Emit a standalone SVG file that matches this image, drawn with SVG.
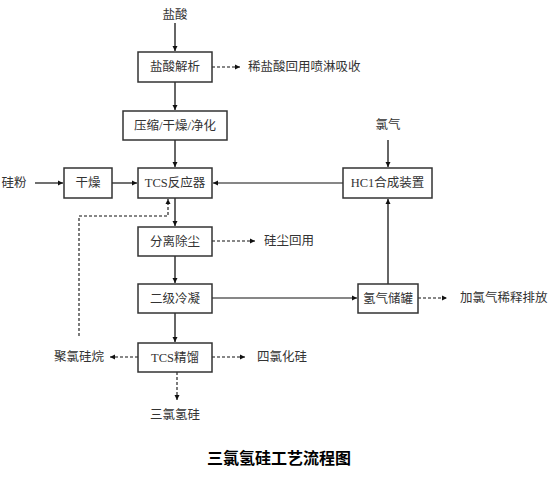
<svg xmlns="http://www.w3.org/2000/svg" width="550" height="477" viewBox="0 0 550 477">
<style>
.box{fill:#fff;stroke:#333;stroke-width:1.5}
.t{font-family:"Liberation Serif","Noto Sans CJK SC",serif;font-size:12.5px;fill:#333;text-anchor:middle;dominant-baseline:central}
.l{text-anchor:start}
.v{stroke:#666;stroke-width:2;fill:none}
.h{stroke:#111;stroke-width:1.2;fill:none}
.d{stroke:#111;stroke-width:1.1;fill:none;stroke-dasharray:3,2}
.title{font-family:"Liberation Serif","Noto Sans CJK SC",serif;font-size:16px;font-weight:bold;fill:#000;text-anchor:middle;dominant-baseline:central}
</style>
<defs>
<marker id="a" markerWidth="6" markerHeight="6" refX="5" refY="3" orient="auto" markerUnits="userSpaceOnUse">
<path d="M0,0.5 L5,3 L0,5.5 z" fill="#111"/>
</marker>
</defs>
<rect width="550" height="477" fill="#fff"/>
<g id="connectors">
<path class="v" d="M175,23 V51" marker-end="url(#a)"/>
<path class="v" d="M175,82 V110" marker-end="url(#a)"/>
<path class="v" d="M175,140 V167" marker-end="url(#a)"/>
<path class="v" d="M175,198 V226" marker-end="url(#a)"/>
<path class="v" d="M175,256 V283" marker-end="url(#a)"/>
<path class="v" d="M175,313 V342" marker-end="url(#a)"/>
<path class="v" d="M388,140 V167" marker-end="url(#a)"/>
<path class="v" d="M388,284 V199" marker-end="url(#a)"/>
<path class="h" d="M35,183 H63" marker-end="url(#a)"/>
<path class="h" d="M112,183 H137" marker-end="url(#a)"/>
<path class="h" d="M343,183 H213" marker-end="url(#a)"/>
<path class="h" d="M212,298 H357" marker-end="url(#a)"/>
<path class="d" d="M212,67 H240" marker-end="url(#a)"/>
<path class="d" d="M212,241 H255" marker-end="url(#a)"/>
<path class="d" d="M418,298 H447" marker-end="url(#a)"/>
<path class="d" d="M138,357 H110" marker-end="url(#a)"/>
<path class="d" d="M212,357 H245" marker-end="url(#a)"/>
<path class="d" d="M177,372 V400" marker-end="url(#a)"/>
<path class="d" d="M79,336 V216 H168 V199" marker-end="url(#a)"/>
</g>
<g id="n-hcl-in"><text class="t" x="175" y="15">盐酸</text></g>
<g id="n-jiexi"><rect class="box" x="138" y="52" width="74" height="30"/><text class="t" x="175" y="67">盐酸解析</text></g>
<g id="n-xisuan"><text class="t l" x="248" y="67">稀盐酸回用喷淋吸收</text></g>
<g id="n-yasuo"><rect class="box" x="123" y="111" width="104" height="29"/><text class="t" x="175" y="125.5">压缩/干燥/净化</text></g>
<g id="n-lvqi"><text class="t" x="388" y="125">氯气</text></g>
<g id="n-guifen"><text class="t" x="14" y="183">硅粉</text></g>
<g id="n-ganzao"><rect class="box" x="64" y="168" width="48" height="30"/><text class="t" x="88" y="183">干燥</text></g>
<g id="n-tcs"><rect class="box" x="138" y="168" width="74" height="30"/><text class="t" x="175" y="183">TCS反应器</text></g>
<g id="n-hclsyn"><rect class="box" x="343" y="168" width="89" height="30"/><text class="t" x="387.5" y="183">HC1合成装置</text></g>
<g id="n-fenli"><rect class="box" x="138" y="227" width="74" height="29"/><text class="t" x="175" y="241.5">分离除尘</text></g>
<g id="n-guichen"><text class="t l" x="264" y="241">硅尘回用</text></g>
<g id="n-lengning"><rect class="box" x="138" y="284" width="74" height="29"/><text class="t" x="175" y="298.5">二级冷凝</text></g>
<g id="n-qingqi"><rect class="box" x="358" y="284" width="60" height="29"/><text class="t" x="388" y="298.5">氢气储罐</text></g>
<g id="n-paifang"><text class="t l" x="460" y="298">加氯气稀释排放</text></g>
<g id="n-jingliu"><rect class="box" x="138" y="343" width="74" height="29"/><text class="t" x="175" y="357.5">TCS精馏</text></g>
<g id="n-julv"><text class="t" x="79" y="357">聚氯硅烷</text></g>
<g id="n-silv"><text class="t l" x="257" y="357">四氯化硅</text></g>
<g id="n-sanlv"><text class="t" x="175" y="415">三氯氢硅</text></g>
<text class="title" x="279" y="458">三氯氢硅工艺流程图</text>
</svg>
